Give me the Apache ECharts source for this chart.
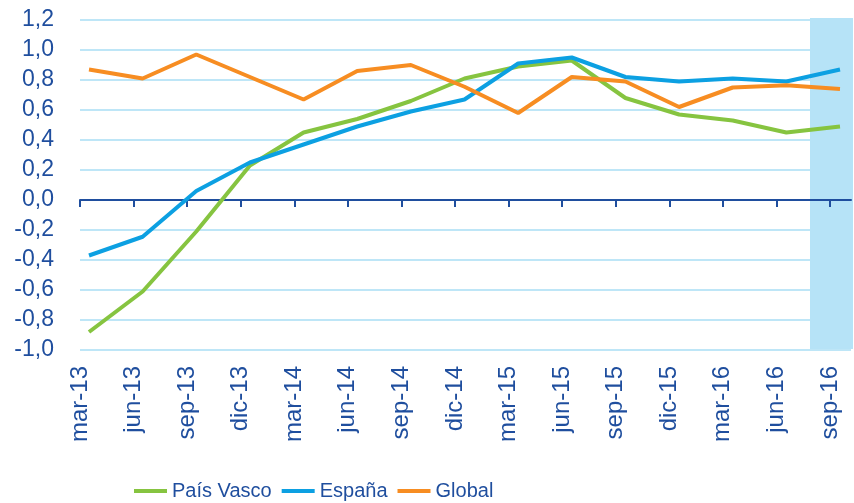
<!DOCTYPE html>
<html><head><meta charset="utf-8">
<script src="https://cdn.jsdelivr.net/npm/echarts@6/dist/echarts.min.js"></script>
<style>html,body{margin:0;padding:0;background:#fff}#c{width:854px;height:503px}</style>
</head><body><div id="c"></div>
<script>
const categories = ['mar-13','jun-13','sep-13','dic-13','mar-14','jun-14','sep-14','dic-14','mar-15','jun-15','sep-15','dic-15','mar-16','jun-16','sep-16'];
const paisVasco = [-0.88,-0.61,-0.21,0.23,0.45,0.54,0.66,0.81,0.89,0.93,0.68,0.57,0.53,0.45,0.49];
const espana    = [-0.37,-0.245,0.06,0.25,0.37,0.49,0.59,0.67,0.91,0.95,0.82,0.79,0.81,0.79,0.87];
const global    = [0.87,0.81,0.97,0.82,0.67,0.86,0.90,0.755,0.58,0.82,0.79,0.62,0.75,0.765,0.74];
const yMin = -1.0, yMax = 1.2, yStep = 0.2;

const axisBlue = '#1F4E9E';
const chart = echarts.init(document.getElementById('c'), null, {renderer:'canvas'});
chart.setOption({
  animation:false,
  backgroundColor:'#fff',
  graphic:[{type:'rect', z:1, shape:{x:810,y:18,width:43,height:331}, style:{fill:'#B6E3F7'}}],
  grid:[
    {left:80, top:20, width:771, height:330},
    {left:89, top:20, width:751, height:330},
    {left:80, top:20, width:750, height:180}
  ],
  legend:{
    left:134, top:481, padding:0, itemWidth:33, itemHeight:4, itemGap:10, icon:'rect',
    textStyle:{color:axisBlue, fontSize:20, fontFamily:'"Liberation Sans",Arial,sans-serif'},
    data:['País Vasco','España','Global']
  },
  xAxis:[
    {gridIndex:0, type:'value', min:0, max:1, z:3, splitLine:{show:false}, axisTick:{show:false}, axisLabel:{show:false},
     axisLine:{show:true, onZero:true, lineStyle:{color:axisBlue, width:2}}},
    {gridIndex:1, type:'category', data:categories, boundaryGap:false, show:false},
    {gridIndex:2, type:'category', data:categories, boundaryGap:false, position:'bottom', z:3,
     axisLine:{show:false, onZero:false},
     axisTick:{show:true, length:7, lineStyle:{color:axisBlue, width:2}},
     axisLabel:{rotate:90, margin:166, color:axisBlue, fontSize:24, fontFamily:'"Liberation Sans",Arial,sans-serif', interval:0},
     splitLine:{show:false}}
  ],
  yAxis:[
    {gridIndex:0, type:'value', min:yMin, max:yMax, interval:yStep,
     axisLine:{show:false}, axisTick:{show:false},
     axisLabel:{margin:26, color:axisBlue, fontSize:23, fontFamily:'"Liberation Sans",Arial,sans-serif',
       formatter:v=>v.toFixed(1).replace('.',',')},
     splitLine:{lineStyle:{color:'#BEE6F7', width:2}}},
    {gridIndex:1, type:'value', min:yMin, max:yMax, show:false},
    {gridIndex:2, type:'value', min:0, max:1, show:false}
  ],
  series:[
    {name:'País Vasco', type:'line', xAxisIndex:1, yAxisIndex:1, data:paisVasco, symbol:'none', z:4,
     lineStyle:{color:'#86C440', width:4}, itemStyle:{color:'#86C440'}},
    {name:'España', type:'line', xAxisIndex:1, yAxisIndex:1, data:espana, symbol:'none', z:4,
     lineStyle:{color:'#0CA0E2', width:4}, itemStyle:{color:'#0CA0E2'}},
    {name:'Global', type:'line', xAxisIndex:1, yAxisIndex:1, data:global, symbol:'none', z:4,
     lineStyle:{color:'#F78D22', width:4}, itemStyle:{color:'#F78D22'}}
  ]
});
</script></body></html>
